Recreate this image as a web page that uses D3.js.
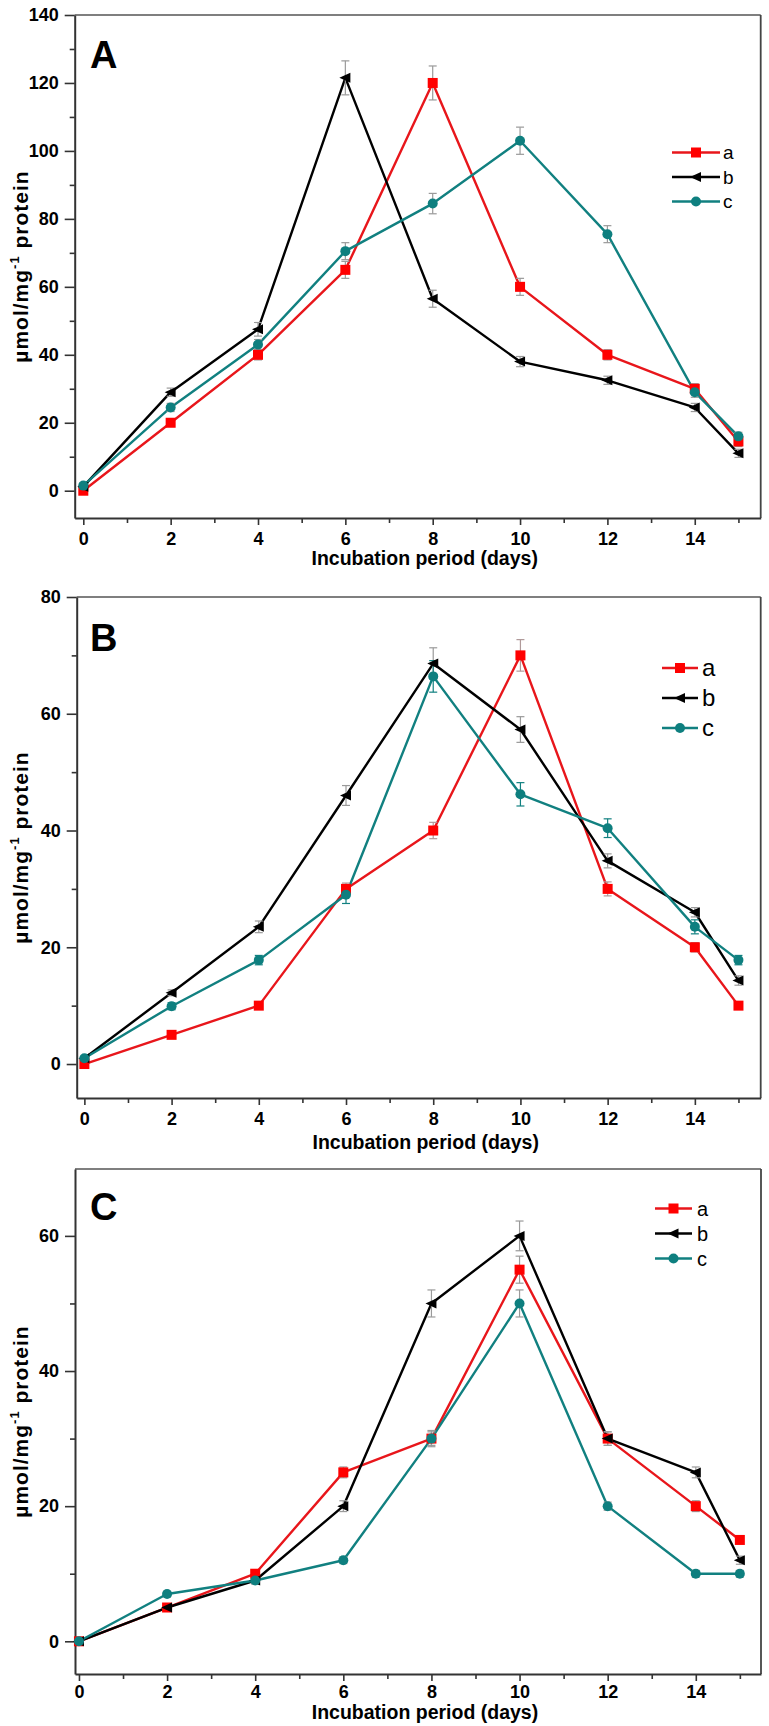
<!DOCTYPE html>
<html><head><meta charset="utf-8">
<script src="https://cdn.jsdelivr.net/npm/d3@7"></script>
<style>
body{margin:0;background:#fff;}
svg text{font-family:"Liberation Sans",Arial,sans-serif;}
</style></head>
<body>
<svg id="chart" width="769" height="1726"></svg>
<script>
// ---- data ----
const days = [0, 2, 4, 6, 8, 10, 12, 14, 15];
const seriesNames = ["a", "b", "c"];
const xTickValues = [0, 2, 4, 6, 8, 10, 12, 14];
const xMinorTicks = [1, 3, 5, 7, 9, 11, 13, 15];

// Panel A
const A_a = [0, 20, 40, 65, 120, 60, 40, 30, 14.5];
const A_b = [1.2, 29, 47.5, 121.5, 56.5, 38, 32.5, 24.5, 11];
const A_c = [1.5, 24.5, 43, 70.5, 84.5, 103, 75.5, 29, 16];
const A_errA = [0.8, 1, 1.5, 2.5, 5, 2.5, 1.5, 1.5, 1.5];
const A_errB = [0.8, 1.2, 2, 5, 2.5, 1.5, 1.2, 1.2, 1.2];
const A_errC = [0.8, 1.2, 1.5, 2.5, 3, 4, 2.5, 1.5, 1.2];
const A_yTicks = [0, 20, 40, 60, 80, 100, 120, 140];
const A_yMinor = [10, 30, 50, 70, 90, 110, 130];

// Panel B
const B_a = [0, 5, 10, 30, 40, 70, 30, 20, 10];
const B_b = [1, 12.2, 23.5, 46, 68.6, 57.3, 34.8, 26, 14.3];
const B_c = [1, 9.9, 17.8, 29, 66.4, 46.2, 40.4, 23.5, 17.8];
const B_errA = [0.3, 0.5, 0.5, 1, 1.4, 2.7, 1.2, 0.8, 0.5];
const B_errB = [0.3, 0.5, 1, 1.7, 2.7, 2.2, 1.2, 0.8, 0.8];
const B_errC = [0.3, 0.6, 0.8, 1.5, 2.7, 2, 1.6, 1.2, 0.8];
const B_yTicks = [0, 20, 40, 60, 80];
const B_yMinor = [10, 30, 50, 70];

// Panel C
const C_a = [0, 5, 10, 25, 30, 55, 30, 20, 15];
const C_b = [0, 5, 9, 20, 50, 60, 30, 25, 12];
const C_c = [0, 7, 9, 12, 30, 50, 20, 10, 10];
const C_errA = [0.3, 0.4, 0.5, 0.8, 1, 2, 1, 0.8, 0.5];
const C_errB = [0.3, 0.4, 0.5, 0.8, 2, 2.2, 1, 0.8, 0.6];
const C_errC = [0.3, 0.4, 0.5, 0.5, 1.2, 2, 0.6, 0.5, 0.5];
const C_yTicks = [0, 20, 40, 60];
const C_yMinor = [10, 30, 50];

const xLabel = "Incubation period (days)";

// ---- styles ----
const colors = {a: "#e8161b", b: "#000000", c: "#118080"};
const markerFill = {a: "#ff0000", b: "#000000", c: "#0e7f7f"};

const panels = [
  {label: "A", left: 74.7, right: 760.7, top: 15, bottom: 518,
   xd: [-0.197, 15.51], yd: [-8.03, 140],
   series: {a: A_a, b: A_b, c: A_c}, errs: {a: A_errA, b: A_errB, c: A_errC},
   errColor: {a: "#9a9a9a", b: "#9a9a9a", c: "#9a9a9a"},
   yTicks: A_yTicks, yMinor: A_yMinor,
   tickLabY: 27, titleY: 47, panelLab: [90, 68],
   legend: {x1: 672, x2: 720, tx: 723, y0: 152.5, dy: 24.5, fs: 19}},
  {label: "B", left: 76.7, right: 760.7, top: 597, bottom: 1098,
   xd: [-0.176, 15.51], yd: [-5.82, 80],
   series: {a: B_a, b: B_b, c: B_c}, errs: {a: B_errA, b: B_errB, c: B_errC},
   errColor: {a: "#b09a9a", b: "#9a9a9a", c: "#118080"},
   yTicks: B_yTicks, yMinor: B_yMinor,
   tickLabY: 27, titleY: 51, panelLab: [90, 651],
   legend: {x1: 662, x2: 698, tx: 702, y0: 668, dy: 30, fs: 24}},
  {label: "C", left: 75, right: 761, top: 1169, bottom: 1674,
   xd: [-0.09, 15.48], yd: [-4.84, 69.9],
   series: {a: C_a, b: C_b, c: C_c}, errs: {a: C_errA, b: C_errB, c: C_errC},
   errColor: {a: "#9a9a9a", b: "#9a9a9a", c: "#9a9a9a"},
   yTicks: C_yTicks, yMinor: C_yMinor,
   tickLabY: 24, titleY: 45, panelLab: [90, 1220],
   legend: {x1: 655, x2: 692, tx: 697, y0: 1208.5, dy: 25, fs: 20}}
];

const svg = d3.select("#chart");

function marker(g, name, x, y, size) {
  const s = size / 2;
  if (name === "a") {
    g.append("rect").attr("x", x - s).attr("y", y - s).attr("width", size).attr("height", size)
      .attr("fill", markerFill.a);
  } else if (name === "b") {
    g.append("path").attr("d", `M${x - s - 1},${y} L${x + s},${y - s} L${x + s},${y + s} Z`)
      .attr("fill", markerFill.b);
  } else {
    g.append("circle").attr("cx", x).attr("cy", y).attr("r", s).attr("fill", markerFill.c);
  }
}

panels.forEach(p => {
  const g = svg.append("g");
  const x = d3.scaleLinear().domain(p.xd).range([p.left, p.right]);
  const y = d3.scaleLinear().domain(p.yd).range([p.bottom, p.top]);

  // frame (top & right)
  g.append("line").attr("x1", p.left).attr("x2", p.right).attr("y1", p.top).attr("y2", p.top)
    .attr("stroke", "#555").attr("stroke-width", 1.6);
  g.append("line").attr("x1", p.right).attr("x2", p.right).attr("y1", p.top).attr("y2", p.bottom)
    .attr("stroke", "#444").attr("stroke-width", 1.8);

  // y axis
  const yAx = g.append("g").attr("transform", `translate(${p.left},0)`)
    .call(d3.axisLeft(y).tickValues(p.yTicks).tickSize(10).tickPadding(6).tickSizeOuter(0));
  yAx.select(".domain").attr("stroke", "#333").attr("stroke-width", 2);
  yAx.selectAll(".tick line").attr("stroke", "#333").attr("stroke-width", 1.6);
  yAx.selectAll(".tick text").attr("font-size", 18).attr("font-weight", "bold").attr("fill", "#000")
    .style("font-family", "Liberation Sans, Arial, sans-serif");
  g.append("g").attr("transform", `translate(${p.left},0)`)
    .call(d3.axisLeft(y).tickValues(p.yMinor).tickSize(5).tickFormat(""))
    .call(a => { a.select(".domain").remove(); a.selectAll("line").attr("stroke", "#333").attr("stroke-width", 1.6); });

  // x axis
  const xAx = g.append("g").attr("transform", `translate(0,${p.bottom})`)
    .call(d3.axisBottom(x).tickValues(xTickValues).tickSize(7).tickPadding(9).tickSizeOuter(0));
  xAx.select(".domain").attr("stroke", "#333").attr("stroke-width", 2);
  xAx.selectAll(".tick line").attr("stroke", "#333").attr("stroke-width", 1.6);
  xAx.selectAll(".tick text").attr("font-size", 18).attr("font-weight", "bold").attr("fill", "#000")
    .attr("y", p.tickLabY - 6).attr("dy", "0.35em")
    .style("font-family", "Liberation Sans, Arial, sans-serif");
  g.append("g").attr("transform", `translate(0,${p.bottom})`)
    .call(d3.axisBottom(x).tickValues(xMinorTicks).tickSize(5).tickFormat(""))
    .call(a => { a.select(".domain").remove(); a.selectAll("line").attr("stroke", "#333").attr("stroke-width", 1.6); });

  // x title
  g.append("text").attr("x", (p.left + p.right) / 2 + 7).attr("y", p.bottom + p.titleY)
    .attr("text-anchor", "middle").attr("font-size", 19.5).attr("font-weight", "bold").text(xLabel);

  // y title
  const yt = g.append("text")
    .attr("transform", `translate(28,${(p.top + p.bottom) / 2}) rotate(-90)`)
    .attr("text-anchor", "middle").attr("font-size", 21).attr("font-weight", "bold")
    .attr("letter-spacing", 1);
  yt.append("tspan").text("µmol/mg");
  yt.append("tspan").attr("font-size", 13).attr("dy", -9).text("-1");
  yt.append("tspan").attr("dy", 9).text(" protein");

  // panel letter
  g.append("text").attr("x", p.panelLab[0]).attr("y", p.panelLab[1])
    .attr("font-size", 38).attr("font-weight", "bold").text(p.label);

  // lines
  seriesNames.forEach(n => {
    const vals = p.series[n];
    const line = d3.line().x((d, i) => x(days[i])).y(d => y(d));
    g.append("path").datum(vals).attr("d", line).attr("fill", "none")
      .attr("stroke", colors[n]).attr("stroke-width", 2.4).attr("stroke-linejoin", "round");
  });
  // error bars
  seriesNames.forEach(n => {
    const vals = p.series[n], errs = p.errs[n];
    vals.forEach((v, i) => {
      const cx = x(days[i]);
      const y1 = y(v + errs[i]), y2 = y(v - errs[i]);
      const eg = g.append("g").attr("stroke", p.errColor[n]).attr("stroke-width", 1.2);
      eg.append("line").attr("x1", cx).attr("x2", cx).attr("y1", y1).attr("y2", y2);
      eg.append("line").attr("x1", cx - 4).attr("x2", cx + 4).attr("y1", y1).attr("y2", y1);
      eg.append("line").attr("x1", cx - 4).attr("x2", cx + 4).attr("y1", y2).attr("y2", y2);
    });
  });
  // markers
  seriesNames.forEach(n => {
    p.series[n].forEach((v, i) => marker(g, n, x(days[i]), y(v), 10));
  });

  // legend
  const L = p.legend;
  seriesNames.forEach((n, i) => {
    const ly = L.y0 + i * L.dy;
    g.append("line").attr("x1", L.x1).attr("x2", L.x2).attr("y1", ly).attr("y2", ly)
      .attr("stroke", colors[n]).attr("stroke-width", 2.4);
    marker(g, n, (L.x1 + L.x2) / 2, ly, 10);
    g.append("text").attr("x", L.tx).attr("y", ly).attr("dy", "0.35em")
      .attr("font-size", L.fs).text(n);
  });
});
</script>
</body></html>
